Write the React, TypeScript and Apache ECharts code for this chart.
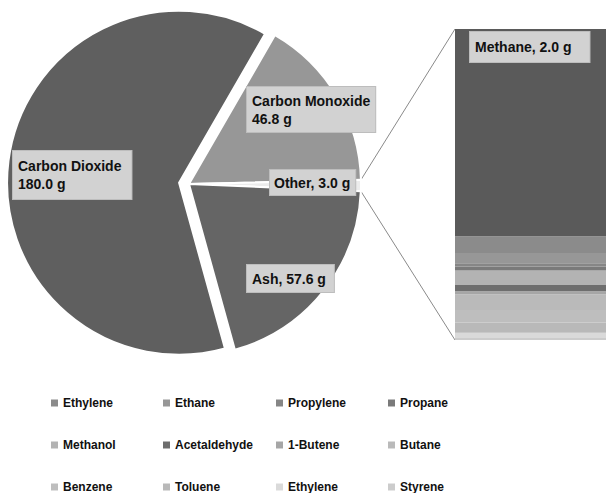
import React, { useEffect, useRef } from "react";
import * as echarts from "echarts";

// ---- Data ----
const PIE_NAMES = ["Carbon Monoxide", "Other", "Ash", "Carbon Dioxide"];
const PIE_VALUES = [46.8, 3.0, 57.6, 180.0];
const PIE_SEPARATORS = ["\n", ", ", ", ", "\n"];
const PIE_COLORS = ["#979797", "#ececec", "#656565", "#5f5f5f"];
const EXPLODED = "Carbon Dioxide";

// "Other" breakdown, listed top-down as in the stacked bar / legend order
const OTHER_NAMES = [
  "Methane",
  "Ethylene",
  "Ethane",
  "Propylene",
  "Propane",
  "Methanol",
  "Acetaldehyde",
  "1-Butene",
  "Butane",
  "Benzene",
  "Toluene",
  "Ethylene (2)",
  "Styrene",
];
const OTHER_VALUES = [2.0, 0.16, 0.1, 0.03, 0.04, 0.14, 0.06, 0.03, 0.15, 0.12, 0.1, 0.05, 0.02];
const OTHER_COLORS = [
  "#5a5a5a",
  "#8b8b8b",
  "#979797",
  "#868686",
  "#7a7a7a",
  "#b3b3b3",
  "#6e6e6e",
  "#a6a6a6",
  "#bababa",
  "#bebebe",
  "#b9b9b9",
  "#dadada",
  "#cccccc",
];
const LEGEND_COLUMNS = [
  ["Ethylene", "Methanol", "Benzene"],
  ["Ethane", "Acetaldehyde", "Toluene"],
  ["Propylene", "1-Butene", "Ethylene (2)"],
  ["Propane", "Butane", "Styrene"],
];

// ---- Layout ----
const W = 606;
const H = 493;
const PIE_CX = 189;
const PIE_CY = 184;
const PIE_R = 172;
const EXPLODE_OFFSET = 10;
const START_ANGLE = 60;
const BAR_LEFT = 455;
const BAR_TOP = 29;
const BAR_BOTTOM = 340;
const LABEL_POS = [
  [247, 87],
  [270, 170],
  [247, 265],
  [13, 151],
];
const LABEL_PADDING = [
  [5, 5, 4, 5],
  [4, 5, 3, 4],
  [5, 8, 4, 5],
  [6, 10, 6, 5],
];
const LEGEND_X = [51, 163, 276, 388];
const FONT = "'Liberation Sans', Arial, sans-serif";

export default function App() {
  const ref = useRef<HTMLDivElement>(null);

  useEffect(() => {
    if (!ref.current) return;
    const chart = echarts.init(ref.current, undefined, { renderer: "svg" });

    const total = PIE_VALUES.reduce((a, b) => a + b, 0);
    const otherStart = START_ANGLE - (PIE_VALUES[0] / total) * 360;
    const otherEnd = otherStart - (PIE_VALUES[1] / total) * 360;
    const pt = (deg: number) => [
      PIE_CX + PIE_R * Math.cos((deg * Math.PI) / 180),
      PIE_CY - PIE_R * Math.sin((deg * Math.PI) / 180),
    ];
    const p1 = pt(otherStart);
    const p2 = pt(otherEnd);
    const otherTotal = OTHER_VALUES.reduce((a, b) => a + b, 0);

    // mid angle of the exploded slice, for the offset of its own pie
    const exIdx = PIE_NAMES.indexOf(EXPLODED);
    let acc = 0;
    for (let i = 0; i < exIdx; i++) acc += PIE_VALUES[i];
    const midDeg = START_ANGLE - ((acc + PIE_VALUES[exIdx] / 2) / total) * 360;
    const exCx = PIE_CX + EXPLODE_OFFSET * Math.cos((midDeg * Math.PI) / 180);
    const exCy = PIE_CY - EXPLODE_OFFSET * Math.sin((midDeg * Math.PI) / 180);

    const labelStyle = {
      backgroundColor: "#d2d2d2",
      borderColor: "#bdbdbd",
      borderWidth: 1,
      color: "#111",
      fontFamily: FONT,
      fontWeight: "bold" as const,
      fontSize: 14,
      lineHeight: 18,
    };

    const pieBase = {
      type: "pie" as const,
      radius: [0, PIE_R],
      startAngle: START_ANGLE,
      clockwise: true,
      avoidLabelOverlap: false,
      emphasis: { disabled: true },
      labelLine: { show: false },
      labelLayout: (p: any) => ({
        x: LABEL_POS[p.dataIndex][0],
        y: LABEL_POS[p.dataIndex][1],
        align: "left",
        verticalAlign: "top",
      }),
    };

    const pieData = (explodedPie: boolean) =>
      PIE_NAMES.map((name, i) => {
        const visible = (name === EXPLODED) === explodedPie;
        return {
          name,
          value: PIE_VALUES[i],
          itemStyle: visible
            ? { color: PIE_COLORS[i], borderColor: "#ffffff", borderWidth: 2 }
            : { color: "rgba(0,0,0,0)", borderWidth: 0 },
          label: {
            show: visible,
            position: "inside",
            align: "left",
            padding: LABEL_PADDING[i],
            formatter: (p: any) =>
              `${p.name}${PIE_SEPARATORS[p.dataIndex]}${Number(p.value).toFixed(1)} g`,
            ...labelStyle,
          },
        };
      });

    const barSeries = OTHER_NAMES.map((name, i) => ({ name, i }))
      .reverse()
      .map(({ name, i }) => ({
        type: "bar" as const,
        name,
        stack: "other",
        barWidth: "100%",
        data: [OTHER_VALUES[i]],
        itemStyle: { color: OTHER_COLORS[i] },
        label:
          i === 0
            ? {
                show: true,
                position: [15, 3],
                formatter: () => `${name}, ${OTHER_VALUES[i].toFixed(1)} g`,
                padding: [6, 18, 6, 5],
                ...labelStyle,
              }
            : { show: false },
        emphasis: { disabled: true },
      }));

    const legends = LEGEND_COLUMNS.map((col, c) => ({
      orient: "vertical" as const,
      left: LEGEND_X[c],
      top: 396,
      height: 140,
      padding: 0,
      data: col,
      icon: "rect",
      itemWidth: 7,
      itemHeight: 7,
      itemGap: 28,
      selectedMode: false,
      formatter: (n: string) => n.replace(" (2)", ""),
      textStyle: {
        fontFamily: FONT,
        fontWeight: "bold" as const,
        fontSize: 12,
        lineHeight: 14,
        color: "#111",
      },
    }));
    legends.forEach((l) => (l.itemGap = 28));

    chart.setOption({
      animation: false,
      backgroundColor: "#ffffff",
      legend: legends.map((l) => ({ ...l, itemGap: 28 })),
      grid: {
        left: BAR_LEFT,
        right: 0,
        top: BAR_TOP,
        height: BAR_BOTTOM - BAR_TOP,
        containLabel: false,
      },
      xAxis: { type: "category", data: ["Other"], show: false },
      yAxis: { type: "value", min: 0, max: otherTotal, show: false },
      series: [
        { ...pieBase, center: [PIE_CX, PIE_CY], data: pieData(false) },
        { ...pieBase, center: [exCx, exCy], data: pieData(true) },
        ...barSeries,
      ],
      graphic: [
        {
          type: "line",
          shape: { x1: p1[0], y1: p1[1], x2: BAR_LEFT, y2: BAR_TOP },
          style: { stroke: "#8a8a8a", lineWidth: 1 },
          silent: true,
        },
        {
          type: "line",
          shape: { x1: p2[0], y1: p2[1], x2: BAR_LEFT, y2: BAR_BOTTOM },
          style: { stroke: "#8a8a8a", lineWidth: 1 },
          silent: true,
        },
      ],
    });

    return () => chart.dispose();
  }, []);

  return (
    <div
      ref={ref}
      style={{ position: "fixed", left: 0, top: 0, width: W, height: H }}
    />
  );
}
